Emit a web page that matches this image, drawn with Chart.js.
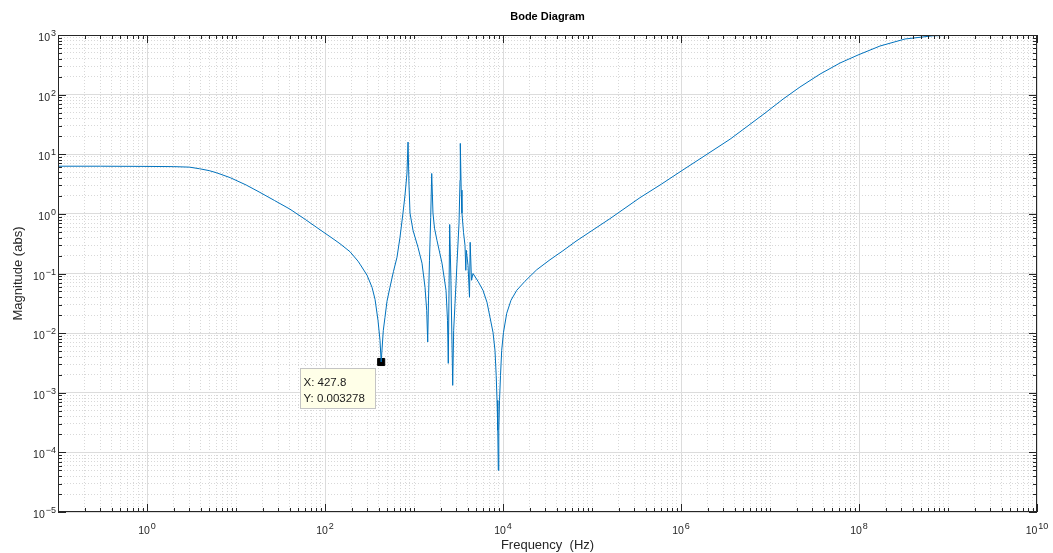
<!DOCTYPE html>
<html>
<head>
<meta charset="utf-8">
<title>Bode Diagram</title>
<script src="https://cdn.jsdelivr.net/npm/chart.js@4.4.1/dist/chart.umd.min.js"></script>
<style>
  html, body { margin: 0; padding: 0; background: #fff; }
  canvas { display: block; }
</style>
</head>
<body>
<canvas id="bode" width="1053" height="553"></canvas>
<script>
// ***** data *****
// frequency (Hz)
const freq = [
  0.1, 0.3, 1, 2, 3, 3.9, 5, 6, 8.6, 13, 18.6, 27, 40.4, 60, 87.9, 123,
  147.4, 191, 234.9, 250, 297, 337.5, 365, 394, 415, 427.8, 451.9, 472,
  497.3, 537, 588.6, 644, 696.2, 752, 792.3, 834, 857, 879, 902, 975, 1109,
  1230, 1330, 1389, 1426, 1455, 1493, 1540, 1581, 1634, 1700, 1811, 2064,
  2290, 2380, 2428, 2518, 2600, 2722, 2790, 2890, 3043, 3206, 3289, 3313,
  3391, 3459, 3599, 3741, 3821, 3870, 4045, 4205, 4277, 4426, 4603, 5236,
  5957, 6607, 7145, 7721, 8128, 8386, 8570, 8742, 8856, 8971, 9141, 9376,
  9668, 10130, 11010, 12300, 14270, 17660, 23920, 33730, 47200, 66110,
  94900, 1.59e5, 3.46e5, 6e5, 9.75e5, 1.96e6, 3.56e6, 5.24e6, 8.79e6, 1.4e7,
  2.17e7, 3.65e7, 6.12e7, 9.75e7, 1.72e8, 3.29e8, 6.78e8, 1.77e9, 1e10,
];
// magnitude (abs)
const mag = [
  6.3, 6.3, 6.25, 6.2, 6.08, 5.71, 5.31, 4.91, 4.05, 3.05, 2.29, 1.68, 1.2,
  0.807, 0.542, 0.383, 0.316, 0.232, 0.161, 0.14, 0.0934, 0.0587, 0.0369,
  0.0164, 0.00757, 0.003278, 0.0111, 0.0184, 0.0342, 0.0587, 0.109, 0.187,
  0.406, 1.03, 2.06, 4.8, 16, 3.03, 1.03, 0.53, 0.275, 0.149, 0.0587,
  0.0241, 0.0071, 0.0358, 0.167, 0.87, 4.76, 1.03, 0.575, 0.36, 0.149,
  0.0523, 0.0164, 0.00311, 0.664, 0.077, 0.00133, 0.0111, 0.0316, 0.149,
  0.698, 3.68, 15.2, 2.5, 1.03, 0.49, 0.298, 0.113, 0.245, 0.137, 0.04,
  0.334, 0.077, 0.1, 0.0741, 0.0523, 0.0329, 0.0184, 0.0103, 0.00514,
  0.00195, 0.000745, 0.000233, 0.00005, 0.000233, 0.000745, 0.00195,
  0.00514, 0.0103, 0.0215, 0.0356, 0.0523, 0.0741, 0.1155, 0.17, 0.241,
  0.348, 0.498, 0.83, 1.87, 3.14, 5.07, 10, 17.9, 27.5, 49, 84, 134, 221,
  339, 462, 653, 857, 970, 997, 1000,
];

// data tip
const tipX = [427.8];
const tipY = [0.003278];

// decades that carry a tick label
const xLabelExps = [0, 2, 4, 6, 8, 10];
const yLabelExps = [-5, -4, -3, -2, -1, 0, 1, 2, 3];

const chartTitle = "Bode Diagram";
const xTitle = "Frequency  (Hz)";
const yTitle = "Magnitude (abs)";

const FONT = "'Liberation Sans', Arial, Helvetica, sans-serif";
const AXIS_COLOR = "#262626";

// 1..9 x 10^e ticks, labelled decades are "major"
function logTicks(minExp, maxExp, majorExps) {
  const ticks = [];
  for (let e = minExp; e <= maxExp; e++) {
    ticks.push({ value: Math.pow(10, e), major: majorExps.includes(e) });
    if (e < maxExp) {
      for (let k = 2; k <= 9; k++) ticks.push({ value: k * Math.pow(10, e), major: false });
    }
  }
  return ticks;
}

const gridColor = (c) => (c.tick && c.tick.major ? "#dcdcdc" : "#d8d8d8");
const gridDash = (c) => (c.tick && c.tick.major ? [] : [1, 2]);

// labels like 10^3 with a raised exponent
function drawPower(ctx, exp, x, y, align) {
  const base = "10";
  const sup = exp < 0 ? "\u2212" + Math.abs(exp) : String(exp);
  ctx.font = "10.5px " + FONT;
  const w1 = ctx.measureText(base).width;
  ctx.font = "9px " + FONT;
  const w2 = ctx.measureText(sup).width;
  let start = align === "right" ? x - w1 - w2 - 1 : x - (w1 + w2 + 1) / 2;
  ctx.textAlign = "left";
  ctx.textBaseline = "alphabetic";
  ctx.font = "10.5px " + FONT;
  ctx.fillText(base, start, y);
  ctx.font = "9px " + FONT;
  ctx.fillText(sup, start + w1 + 1, y - 5);
}

const axesBox = {
  id: "axesBox",
  afterDraw(chart) {
    const { ctx, chartArea: a, scales } = chart;
    const x = scales.x;
    const y = scales.y;
    ctx.save();

    // inward ticks on all four sides
    ctx.strokeStyle = AXIS_COLOR;
    ctx.lineWidth = 1;
    ctx.beginPath();
    x.ticks.forEach((t) => {
      const px = Math.round(x.getPixelForValue(t.value)) + 0.5;
      const len = t.major ? 8 : 4;
      ctx.moveTo(px, a.bottom);
      ctx.lineTo(px, a.bottom - len);
      ctx.moveTo(px, a.top);
      ctx.lineTo(px, a.top + len);
    });
    y.ticks.forEach((t) => {
      const py = Math.round(y.getPixelForValue(t.value)) + 0.5;
      const len = t.major ? 8 : 4;
      ctx.moveTo(a.left, py);
      ctx.lineTo(a.left + len, py);
      ctx.moveTo(a.right, py);
      ctx.lineTo(a.right - len, py);
    });
    ctx.stroke();
    ctx.strokeRect(a.left + 0.5, a.top + 0.5, a.right - a.left - 1, a.bottom - a.top - 1);

    // tick labels
    ctx.fillStyle = AXIS_COLOR;
    xLabelExps.forEach((e) => {
      drawPower(ctx, e, x.getPixelForValue(Math.pow(10, e)), a.bottom + 21.5, "center");
    });
    yLabelExps.forEach((e) => {
      drawPower(ctx, e, a.left - 2, y.getPixelForValue(Math.pow(10, e)) + 6, "right");
    });

    // titles
    ctx.textAlign = "center";
    ctx.textBaseline = "middle";
    ctx.fillStyle = "#000";
    ctx.font = "bold 11px " + FONT;
    ctx.fillText(chartTitle, (a.left + a.right) / 2, 17);
    ctx.fillStyle = AXIS_COLOR;
    ctx.font = "13px " + FONT;
    ctx.fillText(xTitle, (a.left + a.right) / 2, 545);
    ctx.save();
    ctx.translate(18, (a.top + a.bottom) / 2);
    ctx.rotate(-Math.PI / 2);
    ctx.fillText(yTitle, 0, 0);
    ctx.restore();

    // data tip box
    const mx = x.getPixelForValue(tipX[0]);
    const my = y.getPixelForValue(tipY[0]);
    const bx = Math.round(mx - 81) + 0.5;
    const by = Math.round(my + 6) + 0.5;
    ctx.fillStyle = "rgb(255,255,232)";
    ctx.strokeStyle = "#c4c4c4";
    ctx.fillRect(bx, by, 75, 40);
    ctx.strokeRect(bx, by, 75, 40);
    ctx.fillStyle = "#1a1a1a";
    ctx.textAlign = "left";
    ctx.textBaseline = "alphabetic";
    ctx.font = "11.5px " + FONT;
    ctx.fillText("X: " + tipX[0], bx + 3, by + 17);
    ctx.fillText("Y: " + tipY[0], bx + 3, by + 33);

    ctx.restore();
  },
};

const data = {
  datasets: [
    {
      label: "Magnitude",
      data: freq.map((f, i) => ({ x: f, y: mag[i] })),
      borderColor: "#0072BD",
      borderWidth: 1,
      pointRadius: 0,
      tension: 0,
    },
    {
      label: "Data tip",
      data: tipX.map((f, i) => ({ x: f, y: tipY[i] })),
      showLine: false,
      pointStyle: "rect",
      pointRadius: 5,
      borderWidth: 1,
      borderColor: "#000",
      backgroundColor: "#000",
    },
  ],
};

const config = {
  type: "line",
  data,
  options: {
    responsive: false,
    maintainAspectRatio: false,
    animation: false,
    events: [],
    layout: { padding: { top: 35, right: 16, left: 0, bottom: 0 } },
    scales: {
      x: {
        type: "logarithmic",
        min: 0.1,
        max: 1e10,
        ticks: { display: false },
        grid: { color: gridColor, lineWidth: 1, drawTicks: false },
        border: { display: false, dash: gridDash },
        afterBuildTicks: (s) => { s.ticks = logTicks(-1, 10, xLabelExps); },
        afterFit: (s) => { s.height = 41; },
      },
      y: {
        type: "logarithmic",
        min: 1e-5,
        max: 1e3,
        ticks: { display: false },
        grid: { color: gridColor, lineWidth: 1, drawTicks: false },
        border: { display: false, dash: gridDash },
        afterBuildTicks: (s) => { s.ticks = logTicks(-5, 3, yLabelExps); },
        afterFit: (s) => { s.width = 58; },
      },
    },
    plugins: {
      legend: { display: false },
      tooltip: { enabled: false },
    },
  },
  plugins: [axesBox],
};

const bodeChart = new Chart(document.getElementById("bode"), config);
</script>
</body>
</html>
